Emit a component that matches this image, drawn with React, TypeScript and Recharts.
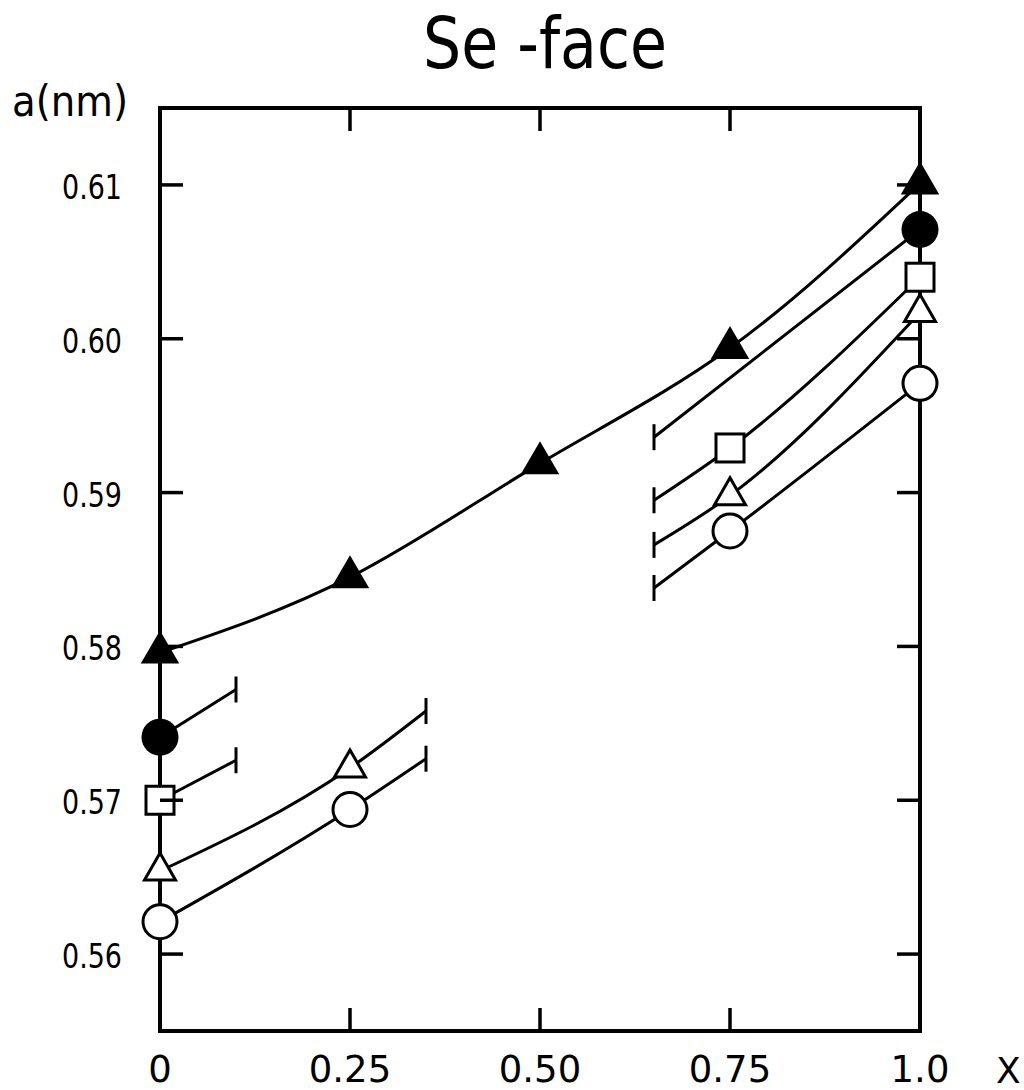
import { LineChart, Line, XAxis, YAxis, ReferenceArea } from "recharts";

// axis ticks
const xTicks = [0, 0.25, 0.5, 0.75, 1.0];
const xTickLabels = ["0", "0.25", "0.50", "0.75", "1.0"];
const yTicks = [0.56, 0.57, 0.58, 0.59, 0.6, 0.61];
const yTickLabels = ["0.56", "0.57", "0.58", "0.59", "0.60", "0.61"];

// composition x for each segment
const xFilledTri = [0, 0.25, 0.5, 0.75, 1.0];
const xShortLeft = [0, 0.1];
const xLongLeft = [0, 0.25, 0.35];
const xShortRight = [0.65, 1.0];
const xLongRight = [0.65, 0.75, 1.0];

// lattice constant a (nm)
const aFilledTri = [0.5796, 0.5845, 0.5919, 0.5994, 0.6101];
const aFilledCircleLeft = [0.5741, 0.5772];
const aFilledCircleRight = [0.5936, 0.6071];
const aSquareLeft = [0.57, 0.5726];
const aSquareRight = [0.5895, 0.5929, 0.604];
const aOpenTriLeft = [0.5654, 0.5721, 0.5758];
const aOpenTriRight = [0.5866, 0.5898, 0.6017];
const aOpenCircleLeft = [0.5621, 0.5694, 0.5727];
const aOpenCircleRight = [0.5838, 0.5875, 0.5971];

const W = 1024;
const H = 1090;
const M_TOP = 108;
const M_RIGHT = 104;
const Y_W = 160;
const X_H = 59;
const PLOT_W = W - Y_W - M_RIGHT;
const PLOT_H = H - M_TOP - X_H;
const TICK = 23;
const FONT = "'DejaVu Sans', sans-serif";

type Pt = { x: number; a: number | null; kind: string };

// left piece ends in a cap, right piece starts with one
const segments = (xl: number[], al: number[], xr: number[], ar: number[]): Pt[] => [
  ...xl.map((x, i) => ({ x, a: al[i], kind: i === xl.length - 1 ? "cap" : "pt" })),
  { x: 0.5, a: null, kind: "gap" },
  ...xr.map((x, i) => ({ x, a: ar[i], kind: i === 0 ? "cap" : "pt" })),
];

const filledTri: Pt[] = xFilledTri.map((x, i) => ({ x, a: aFilledTri[i], kind: "pt" }));
const filledCircle = segments(xShortLeft, aFilledCircleLeft, xShortRight, aFilledCircleRight);
const square = segments(xShortLeft, aSquareLeft, xLongRight, aSquareRight);
const openTri = segments(xLongLeft, aOpenTriLeft, xLongRight, aOpenTriRight);
const openCircle = segments(xLongLeft, aOpenCircleLeft, xLongRight, aOpenCircleRight);

const tri = (cx: number, cy: number, s: number, h: number) =>
  `M${cx},${cy - (2 * h) / 3} L${cx + s / 2},${cy + h / 3} L${cx - s / 2},${cy + h / 3} Z`;

function Marker({ shape, cx, cy }: { shape: string; cx: number; cy: number }) {
  switch (shape) {
    case "filledTri":
      return <path d={tri(cx, cy, 35, 30)} fill="#000" stroke="#000" strokeWidth={2} />;
    case "filledCircle":
      return <circle cx={cx} cy={cy} r={18.5} fill="#000" />;
    case "square":
      return <rect x={cx - 14} y={cy - 14} width={28} height={28} fill="#fff" stroke="#000" strokeWidth={3} />;
    case "openTri":
      return <path d={tri(cx, cy, 31, 27)} fill="#fff" stroke="#000" strokeWidth={3} />;
    default:
      return <circle cx={cx} cy={cy} r={17} fill="#fff" stroke="#000" strokeWidth={3} />;
  }
}

const makeDot = (shape: string) => (props: any) => {
  const { cx, cy, payload, index } = props;
  if (cx == null || cy == null || payload == null || payload.a == null) return <g key={index} />;
  if (payload.kind === "cap")
    return <line key={index} x1={cx} x2={cx} y1={cy - 13} y2={cy + 13} stroke="#000" strokeWidth={3} />;
  return (
    <g key={index}>
      <Marker shape={shape} cx={cx} cy={cy} />
    </g>
  );
};

const renderXTick = (props: any) => {
  const { x, y, payload } = props;
  const v = payload.value;
  const inner = v > 0 && v < 1;
  return (
    <g>
      {inner && <line x1={x} x2={x} y1={y} y2={y - TICK} stroke="#000" strokeWidth={3.5} />}
      {inner && <line x1={x} x2={x} y1={y - PLOT_H} y2={y - PLOT_H + TICK} stroke="#000" strokeWidth={3.5} />}
      <text x={x} y={y + 38} textAnchor="middle" dominantBaseline="central" fontSize={37} fontFamily={FONT} fill="#000">
        {xTickLabels[xTicks.indexOf(v)]}
      </text>
    </g>
  );
};

const renderYTick = (props: any) => {
  const { x, y, payload } = props;
  const v = payload.value;
  return (
    <g>
      <line x1={x} x2={x + TICK} y1={y} y2={y} stroke="#000" strokeWidth={3.5} />
      <line x1={x + PLOT_W} x2={x + PLOT_W - TICK} y1={y} y2={y} stroke="#000" strokeWidth={3.5} />
      <text x={x - 38} y={y + 2} textAnchor="end" dominantBaseline="central" fontSize={34} textLength={60} lengthAdjust="spacingAndGlyphs" fontFamily={FONT} fill="#000">
        {yTickLabels[yTicks.findIndex((t) => Math.abs(t - v) < 1e-9)]}
      </text>
    </g>
  );
};

const series: { data: Pt[]; shape: string; curve: "natural" | "monotone" }[] = [
  { data: filledTri, shape: "filledTri", curve: "natural" },
  { data: filledCircle, shape: "filledCircle", curve: "monotone" },
  { data: square, shape: "square", curve: "monotone" },
  { data: openTri, shape: "openTri", curve: "monotone" },
  { data: openCircle, shape: "openCircle", curve: "monotone" },
];

export default function App() {
  return (
    <div style={{ position: "absolute", left: 0, top: 0, width: W, height: H, background: "#fff", fontFamily: FONT }}>
      <LineChart width={W} height={H} margin={{ top: M_TOP, right: M_RIGHT, bottom: 0, left: 0 }}>
        <XAxis
          dataKey="x"
          type="number"
          domain={[0, 1]}
          ticks={xTicks}
          interval={0}
          height={X_H}
          axisLine={false}
          tickLine={false}
          tickSize={0}
          tickMargin={0}
          tick={renderXTick}
        />
        <YAxis
          type="number"
          domain={[0.555, 0.615]}
          ticks={yTicks}
          interval={0}
          width={Y_W}
          axisLine={false}
          tickLine={false}
          tickSize={0}
          tickMargin={0}
          tick={renderYTick}
        />
        <ReferenceArea x1={0} x2={1} y1={0.555} y2={0.615} fill="none" stroke="#000" strokeWidth={4} />
        {series.map((s) => (
          <Line
            key={s.shape}
            data={s.data}
            dataKey="a"
            type={s.curve}
            stroke="#000"
            strokeWidth={3}
            connectNulls={false}
            dot={makeDot(s.shape)}
            activeDot={false}
            isAnimationActive={false}
          />
        ))}
      </LineChart>
      <svg width={W} height={H} style={{ position: "absolute", left: 0, top: 0, pointerEvents: "none" }}>
        <text x={423} y={68} fontSize={72} textLength={244} lengthAdjust="spacingAndGlyphs" fontFamily={FONT} fill="#000">
          Se -face
        </text>
        <text x={12} y={116} fontSize={42} textLength={116} lengthAdjust="spacingAndGlyphs" fontFamily={FONT} fill="#000">
          a(nm)
        </text>
        <text x={996} y={1083} fontSize={36} fontFamily={FONT} fill="#000">
          X
        </text>
      </svg>
    </div>
  );
}
